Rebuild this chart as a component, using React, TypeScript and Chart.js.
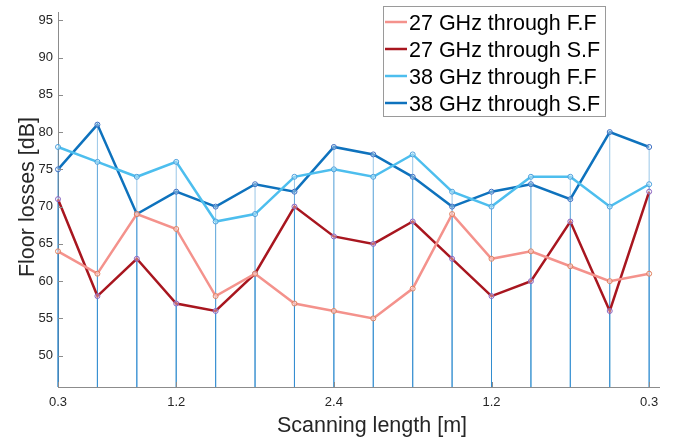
import React, { useEffect, useRef } from "react";
import { Chart, registerables } from "chart.js";

Chart.register(...registerables);

// ---- data ----
const positions = [0, 1, 2, 3, 4, 5, 6, 7, 8, 9, 10, 11, 12, 13, 14, 15];
const xTickPositions = [0, 3, 7, 11, 15];
const xTickLabels = ["0.3", "1.2", "2.4", "1.2", "0.3"];
const yTicks = [50, 55, 60, 65, 70, 75, 80, 85, 90, 95];

const seriesNames = [
  "27 GHz through F.F",
  "27 GHz through S.F",
  "38 GHz through F.F",
  "38 GHz through S.F",
];
const ghz27FF = [64, 61, 69, 67, 58, 61, 57, 56, 55, 59, 69, 63, 64, 62, 60, 61];
const ghz27SF = [71, 58, 63, 57, 56, 61, 70, 66, 65, 68, 63, 58, 60, 68, 56, 72];
const ghz38FF = [78, 76, 74, 76, 68, 69, 74, 75, 74, 77, 72, 70, 74, 74, 70, 73];
const ghz38SF = [75, 81, 69, 72, 70, 73, 72, 78, 77, 74, 70, 72, 73, 71, 80, 78];

const lineColors = ["#f4928c", "#a8161f", "#4dbeee", "#0e72bd"];
const markerColors = ["#e0805e", "#8a64c0", "#4a9fdc", "#3d6fc2"];

const FONT = "'Liberation Sans', Arial, Helvetica, sans-serif";
const AXIS_COLOR = "#8c8c8c";
const TEXT_COLOR = "#262626";

const stemPlugin = {
  id: "stems",
  beforeDatasetsDraw(chart: any) {
    const { ctx, scales, chartArea } = chart;
    const y0 = chartArea.bottom;
    ctx.save();
    ctx.lineWidth = 1;
    ctx.strokeStyle = "rgba(30,130,205,0.45)";
    chart.data.datasets.forEach((ds: any) => {
      ds.data.forEach((p: any) => {
        const px = scales.x.getPixelForValue(p.x);
        const py = scales.y.getPixelForValue(p.y);
        ctx.beginPath();
        ctx.moveTo(px, py);
        ctx.lineTo(px, y0);
        ctx.stroke();
      });
    });
    ctx.restore();
  },
};

const decorPlugin = {
  id: "decor",
  afterDraw(chart: any) {
    const { ctx, scales, chartArea } = chart;
    ctx.save();
    // inner tick marks
    ctx.strokeStyle = AXIS_COLOR;
    ctx.lineWidth = 1;
    yTicks.forEach((v) => {
      const py = Math.round(scales.y.getPixelForValue(v)) + 0.5;
      ctx.beginPath();
      ctx.moveTo(chartArea.left, py);
      ctx.lineTo(chartArea.left + 5, py);
      ctx.stroke();
    });
    xTickPositions.forEach((v) => {
      const px = Math.round(scales.x.getPixelForValue(v)) + 0.5;
      ctx.beginPath();
      ctx.moveTo(px, chartArea.bottom);
      ctx.lineTo(px, chartArea.bottom - 5);
      ctx.stroke();
    });

    // axis titles
    ctx.fillStyle = TEXT_COLOR;
    ctx.font = `21.5px ${FONT}`;
    ctx.textAlign = "center";
    ctx.textBaseline = "alphabetic";
    ctx.fillText("Scanning length [m]", 372, 432);
    ctx.save();
    ctx.translate(34, 197);
    ctx.rotate(-Math.PI / 2);
    ctx.fillText("Floor losses [dB]", 0, 0);
    ctx.restore();

    // legend
    const bx = 383, by = 6, bw = 222, bh = 110;
    ctx.fillStyle = "#ffffff";
    ctx.fillRect(bx, by, bw, bh);
    ctx.strokeStyle = "#9a9a9a";
    ctx.lineWidth = 1;
    ctx.strokeRect(bx + 0.5, by + 0.5, bw, bh);
    ctx.textAlign = "left";
    ctx.font = `21.5px ${FONT}`;
    chart.data.datasets.forEach((ds: any, i: number) => {
      const base = 30 + i * 27;
      const ly = base - 8;
      ctx.strokeStyle = ds.borderColor;
      ctx.lineWidth = 2.5;
      ctx.beginPath();
      ctx.moveTo(385, ly);
      ctx.lineTo(407, ly);
      ctx.stroke();
      ctx.fillStyle = "#000000";
      ctx.fillText(ds.label, 409, base);
    });
    ctx.restore();
  },
};

export default function App() {
  const canvasRef = useRef<HTMLCanvasElement | null>(null);

  useEffect(() => {
    document.body.style.margin = "0";
    const canvas = canvasRef.current;
    if (!canvas) return;
    const all = [ghz27FF, ghz27SF, ghz38FF, ghz38SF];
    const chart = new Chart(canvas, {
      type: "line",
      data: {
        datasets: all.map((arr, i) => ({
          label: seriesNames[i],
          data: positions.map((x, j) => ({ x, y: arr[j] })),
          borderColor: lineColors[i],
          backgroundColor: lineColors[i],
          borderWidth: 2.5,
          pointRadius: 2.5,
          pointBorderWidth: 1,
          pointBorderColor: markerColors[i],
          pointBackgroundColor: "rgba(255,255,255,0.35)",
          tension: 0,
          clip: false as any,
        })),
      },
      options: {
        animation: false,
        responsive: false,
        maintainAspectRatio: false,
        layout: { padding: { top: 6, right: 14, left: 0, bottom: 0 } },
        plugins: {
          legend: { display: false },
          tooltip: { enabled: false },
        },
        scales: {
          x: {
            type: "linear",
            min: 0,
            max: 15.25,
            grid: { display: true, drawOnChartArea: false, drawTicks: false },
            border: { display: true, color: AXIS_COLOR, width: 1 },
            afterBuildTicks: (scale: any) => {
              scale.ticks = xTickPositions.map((v) => ({ value: v }));
            },
            afterFit: (scale: any) => {
              scale.height = 51;
            },
            ticks: {
              padding: 8,
              maxRotation: 0,
              autoSkip: false,
              color: TEXT_COLOR,
              font: { family: FONT, size: 13 },
              callback: (v: any) => {
                const k = xTickPositions.indexOf(Number(v));
                return k >= 0 ? xTickLabels[k] : "";
              },
            },
          },
          y: {
            type: "linear",
            min: 45.8,
            max: 96,
            grid: { display: true, drawOnChartArea: false, drawTicks: false },
            border: { display: true, color: AXIS_COLOR, width: 1 },
            afterBuildTicks: (scale: any) => {
              scale.ticks = yTicks.map((v) => ({ value: v }));
            },
            afterFit: (scale: any) => {
              scale.width = 58;
            },
            ticks: {
              padding: 5,
              color: TEXT_COLOR,
              font: { family: FONT, size: 13 },
              callback: (v: any) => String(v),
            },
          },
        },
      },
      plugins: [stemPlugin, decorPlugin],
    });
    return () => chart.destroy();
  }, []);

  return (
    <div style={{ width: 673, height: 438, background: "#ffffff" }}>
      <canvas ref={canvasRef} width={673} height={438} style={{ display: "block" }} />
    </div>
  );
}
